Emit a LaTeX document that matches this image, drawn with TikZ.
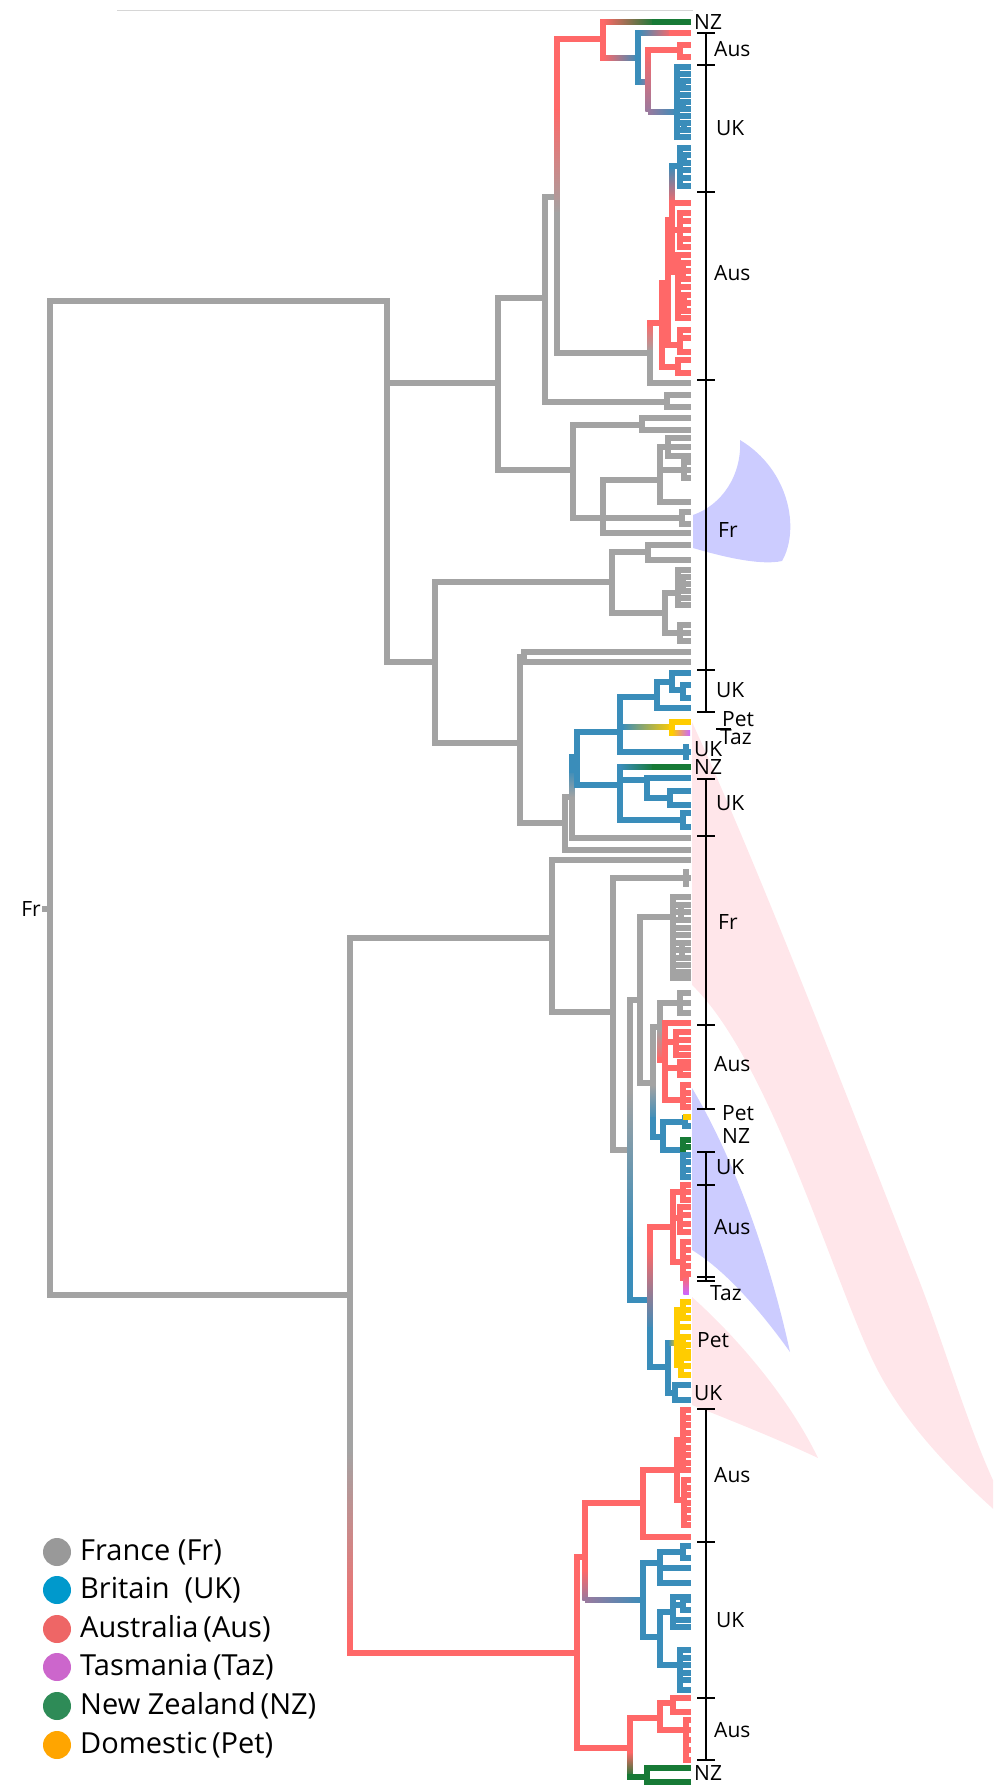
\documentclass[tikz,border=0pt]{standalone}
\usepackage{fontspec}
\setmainfont{Open Sans}
\definecolor{cG}{HTML}{A3A3A3}
\definecolor{cB}{HTML}{3A8DBA}
\definecolor{cR}{HTML}{FF6868}
\definecolor{cN}{HTML}{177A36}
\definecolor{cY}{HTML}{FFCC00}
\definecolor{cM}{HTML}{CC66FF}
\definecolor{cP}{HTML}{9A7A9E}
\definecolor{lG}{HTML}{999999}
\definecolor{lB}{HTML}{0099CC}
\definecolor{lR}{HTML}{EE6666}
\definecolor{lT}{HTML}{CC66CC}
\definecolor{lN}{HTML}{2E8B57}
\definecolor{lO}{HTML}{FFA500}
\definecolor{hPink}{HTML}{FFE6EA}
\definecolor{hBlue}{HTML}{CCCCFF}
\newcommand\tH[4]{\draw[#1] (#2,#4) -- (#3,#4);}
\newcommand\tV[4]{\draw[#1] (#2,#3) -- (#2,#4);}
\newcommand\tT[3]{\foreach \q in {#3}{\draw[#1] (#2,\q) -- (688,\q);}}
\newcommand\tC[5]{\tV{#1}{#2}{#3}{#4}\tT{#1}{#2}{#5}}
\newcommand\gH[5]{\shade[left color=#1,right color=#2] (#3,#5-2.75) rectangle (#4,#5+2.75);}
\newcommand\gV[5]{\shade[top color=#1,bottom color=#2] (#3-2.75,#4) rectangle (#3+2.75,#5);}
\begin{document}
\begin{tikzpicture}[x=1pt,y=-1pt,
  tr/.style={line width=5.5pt,line cap=rect},
  trG/.style={tr,draw=cG}, trB/.style={tr,draw=cB}, trR/.style={tr,draw=cR},
  trN/.style={tr,draw=cN}, trY/.style={tr,draw=cY}, trM/.style={tr,draw=cM},
  br/.style={draw=black,line width=1.4pt},
  lab/.style={font=\fontsize{21}{21}\selectfont,anchor=west,inner sep=0pt},
  leg/.style={font=\fontsize{29}{30}\selectfont,anchor=west,inner sep=0pt}]
\useasboundingbox (0,0) rectangle (993,1787);
% ---------- highlight horns ----------
\begin{scope}
\clip (0,0) rectangle (993,1787);
\fill[hPink] (692,722) .. controls (760,870) and (860,1130) .. (915,1270)
  .. controls (945,1345) and (968,1430) .. (1000,1495)
  -- (1000,1515)
  .. controls (955,1475) and (905,1425) .. (875,1365)
  .. controls (835,1285) and (770,1060) .. (692,985) -- cycle;
\fill[hPink] (692,1297) .. controls (740,1340) and (790,1400) .. (818,1458)
  .. controls (780,1440) and (730,1420) .. (692,1405) -- cycle;
\fill[hBlue] (692,1088) .. controls (735,1160) and (770,1260) .. (790,1352)
  .. controls (760,1310) and (725,1270) .. (692,1250) -- cycle;
\fill[hBlue] (693,515) .. controls (722,505) and (742,475) .. (740,440)
  .. controls (790,470) and (800,530) .. (782,561)
  .. controls (760,566) and (720,556) .. (693,548) -- cycle;
\end{scope}
% ---------- thin top line ----------
\draw[cG!45,line width=1pt] (117,11) -- (693,11);
% ---------- root ----------
\tV{trG}{50}{301}{1295}
\tH{trG}{45}{50}{909}
\tH{trG}{50}{387}{301}
\tV{trG}{387}{301}{662}
\tH{trG}{387}{498}{383}
\tH{trG}{387}{435}{662}
\tH{trG}{50}{350}{1295}
% ---------- upper clade (x=498) ----------
\tV{trG}{498}{298}{470}
\tH{trG}{498}{545}{298}
\tV{trG}{545}{197}{402}
\tH{trG}{545}{557}{197}
\tV{trR}{557}{39}{110}
\gV{cR}{cG}{557}{110}{215}
\tV{trG}{557}{215}{353}
\tH{trR}{557}{603}{39}
\tV{trR}{603}{22}{58}
\gH{cR}{cN}{603}{655}{22}
\tH{trN}{655}{688}{22}
\gH{cR}{cB}{603}{638}{58}
\tV{trB}{638}{33}{82}
\gH{cB}{cR}{638}{672}{33}
\tH{trR}{672}{688}{33}
\gH{cB}{cP}{638}{648}{82}
\gV{cR}{cP}{648}{50}{112}
\tH{trR}{648}{680}{50}
\tC{trR}{680}{45}{57}{45,57}
\gH{cP}{cB}{648}{677}{112}
\tC{trB}{677}{67}{137}{67,74,81,88,95,102,109,116,123,130,137}
\tV{trB}{683}{81}{88}\tV{trB}{683}{102}{109}\tV{trB}{684}{123}{130}
% gray node 650 and red Aus cluster
\tH{trG}{557}{650}{353}
\gV{cR}{cG}{650}{323}{353}
\tV{trG}{650}{353}{383}
\tH{trG}{650}{688}{383}
\tH{trR}{650}{662}{323}
\tV{trR}{662}{283}{367}
\tH{trR}{662}{678}{367}
\tC{trR}{678}{360}{373}{360,373}
\tH{trR}{662}{668}{283}
\tV{trR}{668}{220}{345}
\tH{trR}{668}{680}{345}
\tC{trR}{680}{330}{352}{330,338,352}
\tH{trR}{668}{672}{220}
\gV{cB}{cR}{672}{166}{205}
\tV{trR}{672}{205}{272}
\tH{trB}{672}{680}{166}
\tC{trB}{680}{148}{186}{148,155,163,170,178,186}
\tV{trB}{684}{155}{163}
\tH{trR}{672}{688}{203}
\tH{trR}{672}{680}{230}
\tC{trR}{680}{213}{247}{213,221,230,239,247}
\tH{trR}{672}{678}{272}
\tC{trR}{678}{255}{318}{255,263,271,279,287,295,303,311,318}
\tV{trR}{683}{263}{279}\tV{trR}{684}{295}{311}
% gray 545 -> 667
\tH{trG}{545}{667}{402}
\tC{trG}{667}{395}{407}{395,407}
% gray 573 clade
\tH{trG}{498}{573}{470}
\tV{trG}{573}{425}{518}
\tH{trG}{573}{642}{425}
\tC{trG}{642}{418}{430}{418,430}
\tH{trG}{573}{682}{518}
\tC{trG}{682}{512}{524}{512,524}
\tV{trG}{603}{480}{533}
\tH{trG}{603}{688}{533}
\tH{trG}{603}{660}{480}
\tV{trG}{660}{447}{502}
\tH{trG}{660}{668}{447}
\tC{trG}{668}{438}{456}{438,447,456}
\tH{trG}{660}{684}{470}
\tC{trG}{684}{462}{478}{462,470,478}
\tH{trG}{660}{688}{502}
% ---------- x=435 clade ----------
\tV{trG}{435}{582}{743}
\tH{trG}{435}{612}{582}
\tV{trG}{612}{552}{613}
\tH{trG}{612}{648}{552}
\tC{trG}{648}{545}{560}{545,560}
\tH{trG}{612}{665}{613}
\tV{trG}{665}{593}{633}
\tH{trG}{665}{678}{593}
\tC{trG}{678}{570}{605}{570,577,584,591,598,605}
\tV{trG}{683}{577}{591}
\tH{trG}{665}{680}{633}
\tC{trG}{680}{625}{641}{625,633,641}
\tH{trG}{435}{520}{743}
\tV{trG}{520}{657}{823}
\tH{trG}{520}{524}{657}
\tC{trG}{524}{652}{662}{652,662}
\tH{trG}{520}{565}{823}
\tV{trG}{565}{797}{850}
\tH{trG}{565}{688}{850}
\tH{trG}{565}{572}{797}
\tV{trG}{572}{797}{838}
\gV{cB}{cG}{572}{770}{797}
\tV{trB}{572}{757}{770}
\tH{trG}{572}{688}{838}
\tH{trB}{572}{577}{757}
\tV{trB}{577}{732}{785}
\tH{trB}{577}{620}{732}
\tV{trB}{620}{697}{752}
\tH{trB}{620}{657}{697}
\tV{trB}{657}{682}{708}
\tH{trB}{657}{672}{682}
\tV{trB}{672}{673}{690}
\tH{trB}{672}{688}{673}
\tH{trB}{672}{683}{690}
\tC{trB}{683}{685}{698}{685,698}
\tH{trB}{657}{688}{708}
\gH{cB}{cY}{622}{672}{727}
\tV{trY}{672}{722}{733}
\tH{trY}{672}{688}{722}
\gH{cY}{cM}{672}{690}{733}
\tH{trB}{620}{688}{752}
\tV{trB}{686}{747}{757}
\tH{trB}{577}{620}{785}
\tV{trB}{620}{767}{820}
\gH{cB}{cN}{620}{655}{767}
\tH{trN}{655}{688}{767}
\tH{trB}{620}{647}{780}
\tV{trB}{647}{778}{798}
\tH{trB}{647}{688}{778}
\tH{trB}{647}{670}{798}
\tC{trB}{670}{791}{805}{791,805}
\tH{trB}{620}{683}{820}
\tC{trB}{683}{813}{827}{813,827}
% ---------- lower big clade (x=350) ----------
\tV{trG}{350}{938}{1450}
\gV{cG}{cR}{350}{1450}{1640}
\tV{trR}{350}{1640}{1653}
\tH{trG}{350}{552}{938}
\tH{trR}{350}{577}{1653}
\tV{trG}{552}{860}{1012}
\tH{trG}{552}{688}{860}
\tH{trG}{552}{613}{1012}
\tV{trG}{613}{878}{1150}
\tH{trG}{613}{688}{878}
\tV{trG}{686}{872}{884}
\tH{trG}{613}{630}{1150}
\tV{trG}{630}{1000}{1090}
\gV{cG}{cB}{630}{1090}{1240}
\tV{trB}{630}{1240}{1300}
\tH{trG}{630}{640}{1000}
\tV{trG}{640}{917}{1083}
\tH{trG}{640}{673}{917}
\tC{trG}{673}{897}{978}{897,905,912,920,928,935,943,950,958,965,972,978}
\tV{trG}{681}{905}{920}\tV{trG}{682}{943}{958}
\tH{trG}{640}{653}{1083}
\tV{trG}{653}{1027}{1085}
\gV{cG}{cB}{653}{1085}{1120}
\tV{trB}{653}{1120}{1137}
\tH{trG}{653}{660}{1027}
\tV{trG}{660}{1003}{1030}
\gV{cG}{cR}{660}{1030}{1060}
\tH{trG}{660}{680}{1003}
\tC{trG}{680}{993}{1013}{993,1003,1013}
\tH{trR}{660}{665}{1060}
\tV{trR}{665}{1023}{1100}
\tH{trR}{665}{688}{1023}
\tH{trR}{665}{676}{1042}
\tC{trR}{676}{1032}{1055}{1032,1040,1048,1055}
\tH{trR}{665}{680}{1068}
\tC{trR}{680}{1062}{1075}{1062,1068,1075}
\tH{trR}{665}{683}{1100}
\tC{trR}{683}{1085}{1107}{1085,1093,1100,1107}
\tH{trB}{653}{663}{1137}
\tV{trB}{663}{1122}{1150}
\tH{trB}{663}{685}{1122}
\tV{trB}{685}{1118}{1126}
\tH{trY}{686}{688}{1117}
\tH{trB}{685}{688}{1126}
\tH{trB}{663}{683}{1150}
\tV{trB}{683}{1150}{1177}
\tV{trN}{683}{1140}{1150}
\tH{trN}{683}{688}{1140}\tH{trN}{683}{688}{1147}
\tT{trB}{683}{1155,1162,1170,1177}
\tH{trB}{630}{650}{1300}
\tV{trR}{650}{1227}{1250}
\gV{cR}{cB}{650}{1250}{1330}
\tV{trB}{650}{1330}{1367}
\tH{trR}{650}{673}{1227}
\tV{trR}{673}{1192}{1262}
\tH{trR}{673}{683}{1192}
\tC{trR}{683}{1185}{1200}{1185,1192,1200}
\tH{trR}{673}{680}{1218}
\tC{trR}{680}{1207}{1232}{1207,1215,1224,1232}
\tH{trR}{673}{683}{1262}
\tC{trR}{683}{1242}{1278}{1242,1250,1258,1266,1274}
\gV{cR}{cM}{686}{1276}{1294}
\tH{trB}{650}{668}{1367}
\tV{trB}{668}{1343}{1393}
\gH{cB}{cY}{668}{677}{1343}
\tV{trY}{677}{1310}{1365}
\tH{trY}{677}{683}{1310}
\tC{trY}{683}{1302}{1318}{1302,1310,1318}
\tH{trY}{677}{688}{1327}
\tH{trY}{677}{683}{1345}
\tC{trY}{683}{1337}{1352}{1337,1345,1352}
\tH{trY}{677}{681}{1365}
\tC{trY}{681}{1358}{1375}{1358,1366,1375}
\tH{trB}{668}{675}{1393}
\tC{trB}{675}{1385}{1400}{1385,1400}
% ---------- bottom red clade ----------
\tV{trR}{577}{1557}{1748}
\tH{trR}{577}{585}{1557}
\tV{trR}{585}{1503}{1570}
\gV{cR}{cP}{585}{1570}{1600}
\tH{trR}{585}{643}{1503}
\tV{trR}{643}{1470}{1537}
\tH{trR}{643}{688}{1537}
\tH{trR}{643}{677}{1470}
\tV{trR}{677}{1440}{1500}
\tH{trR}{677}{683}{1440}
\tC{trR}{683}{1410}{1470}{1410,1418,1425,1433,1440,1448,1455,1463,1470}
\tH{trR}{677}{684}{1500}
\tC{trR}{684}{1480}{1525}{1480,1488,1495,1503,1510,1518,1525}
\gH{cP}{cB}{585}{643}{1600}
\tV{trB}{643}{1563}{1637}
\tH{trB}{643}{660}{1563}
\tV{trB}{660}{1552}{1583}
\tH{trB}{660}{683}{1552}
\tC{trB}{683}{1546}{1558}{1546,1558}
\tT{trB}{660}{1568,1583}
\tH{trB}{643}{660}{1637}
\tV{trB}{660}{1612}{1665}
\tH{trB}{660}{673}{1612}
\tC{trB}{673}{1597}{1627}{1597,1620,1627}
\tH{trB}{673}{683}{1605}
\tC{trB}{683}{1600}{1610}{1600,1610}
\tH{trB}{660}{680}{1665}
\tC{trB}{680}{1650}{1690}{1650,1658,1665,1673,1680,1690}
\tH{trR}{577}{630}{1748}
\tV{trR}{630}{1718}{1752}
\gV{cR}{cN}{630}{1752}{1777}
\tH{trR}{630}{660}{1718}
\tV{trR}{660}{1703}{1730}
\tH{trR}{660}{673}{1703}
\tC{trR}{673}{1698}{1712}{1698,1712}
\tH{trR}{660}{686}{1730}
\tC{trR}{686}{1720}{1760}{1720,1730,1740,1750,1760}
\tH{trN}{630}{647}{1777}
\tC{trN}{647}{1768}{1782}{1768,1782}
% ---------- brackets ----------
\draw[br] (706,33) -- (706,712);
\foreach \y in {33,65,192,380,670,712}{\draw[br] (697,\y) -- (715,\y);}
\draw[br] (716,729) -- (731,729);
\draw[br] (706,779) -- (706,1109);
\foreach \y in {779,836,1025,1109}{\draw[br] (697,\y) -- (715,\y);}
\draw[br] (706,1152) -- (706,1280);
\foreach \y in {1152,1185,1277,1281}{\draw[br] (697,\y) -- (715,\y);}
\draw[br] (706,1409) -- (706,1760);
\foreach \y in {1409,1542,1698,1760}{\draw[br] (697,\y) -- (715,\y);}
% ---------- labels ----------
\node[lab] (t1) at (694,22) {NZ};
\node[lab] (t2) at (714,49) {Aus};
\node[lab] (t3) at (716,128) {UK};
\node[lab] (t4) at (714,273) {Aus};
\node[lab] (t5) at (718,530) {Fr};
\node[lab] (t6) at (716,690) {UK};
\node[lab] (t7) at (722,719) {Pet};
\node[lab] (t8) at (720,737) {Taz};
\node[lab] (t9) at (694,749) {UK};
\node[lab] (t10) at (694,767) {NZ};
\node[lab] (t11) at (716,803) {UK};
\node[lab] (t12) at (718,922) {Fr};
\node[lab] (t13) at (714,1064) {Aus};
\node[lab] (t14) at (722,1113) {Pet};
\node[lab] (t15) at (722,1136) {NZ};
\node[lab] (t16) at (716,1167) {UK};
\node[lab] (t17) at (714,1227) {Aus};
\node[lab] (t18) at (710,1293) {Taz};
\node[lab] (t19) at (697,1340) {Pet};
\node[lab] (t20) at (694,1393) {UK};
\node[lab] (t21) at (714,1475) {Aus};
\node[lab] (t22) at (716,1620) {UK};
\node[lab] (t23) at (714,1730) {Aus};
\node[lab] (t24) at (694,1773) {NZ};
\node[lab,anchor=east] (t25) at (41,909) {Fr};
% ---------- legend ----------
\fill[lG] (57,1552) circle (14);
\fill[lB] (57,1590) circle (14);
\fill[lR] (57,1629) circle (14);
\fill[lT] (57,1667) circle (14);
\fill[lN] (57,1706) circle (14);
\fill[lO] (57,1745) circle (14);
\node[leg] (g1) at (80,1552) {France (Fr)};
\node[leg] (g2) at (80,1590) {Britain\ \ (UK)};
\node[leg] (g3) at (80,1629) {Australia\,(Aus)};
\node[leg] (g4) at (80,1667) {Tasmania\,(Taz)};
\node[leg] (g5) at (80,1706) {New Zealand\,(NZ)};
\node[leg] (g6) at (80,1745) {Domestic\,(Pet)};
\end{tikzpicture}
\end{document}
